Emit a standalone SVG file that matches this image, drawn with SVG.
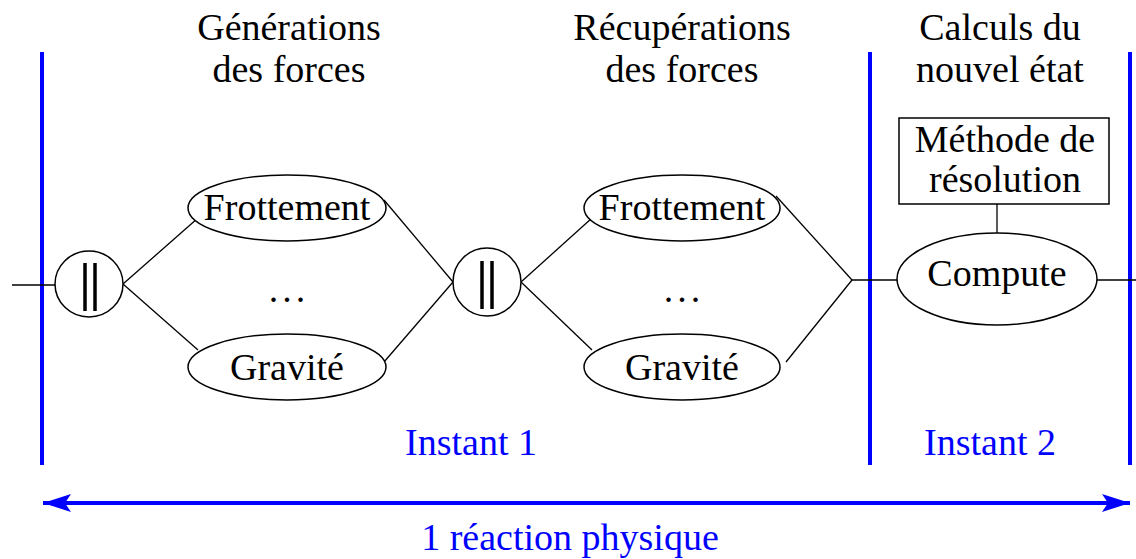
<svg xmlns="http://www.w3.org/2000/svg" width="1136" height="559" viewBox="0 0 1136 559">
<defs>
<style>
text{font-family:"Liberation Serif","Times New Roman",serif;font-size:38px;text-anchor:middle;fill:#000}
.blue{fill:#0000ff}
.dots{letter-spacing:4px}
.node{fill:#fff;stroke:#000;stroke-width:1.5}
.edge{stroke:#000;stroke-width:1.3;fill:none}
.bar{stroke:#000;stroke-width:3.5}
.sep{stroke:#0000ff;stroke-width:4}
</style>
<marker id="ah" viewBox="0 0 28 18" refX="28" refY="9" markerWidth="28" markerHeight="18" markerUnits="userSpaceOnUse" orient="auto-start-reverse">
<path d="M0,0 L28,9 L0,18 L6,9 Z" fill="#0000ff"/>
</marker>
</defs>
<rect width="1136" height="559" fill="#fff"/>

<g id="separators">
<line class="sep" x1="42" y1="52" x2="42" y2="465"/>
<line class="sep" x1="870" y1="52" x2="870" y2="465"/>
<line class="sep" x1="1130" y1="52" x2="1130" y2="465"/>
</g>

<g id="headers">
<text x="289" y="40">Générations</text>
<text x="289" y="82">des forces</text>
<text x="682" y="40">Récupérations</text>
<text x="682" y="82">des forces</text>
<text x="1000" y="40">Calculs du</text>
<text x="1000" y="82">nouvel état</text>
</g>

<g id="connectors">
<line class="edge" x1="12" y1="285" x2="55" y2="285"/>
<line class="edge" x1="123" y1="284" x2="198" y2="218"/>
<line class="edge" x1="123" y1="284" x2="198" y2="350"/>
<line class="edge" x1="384" y1="200" x2="453" y2="282"/>
<line class="edge" x1="384" y1="362" x2="453" y2="282"/>
<line class="edge" x1="521" y1="282" x2="592" y2="218"/>
<line class="edge" x1="521" y1="282" x2="592" y2="350"/>
<line class="edge" x1="776" y1="196" x2="852" y2="280"/>
<line class="edge" x1="786" y1="362" x2="852" y2="280"/>
<line class="edge" x1="852" y1="280" x2="898" y2="280"/>
<line class="edge" x1="997" y1="204" x2="997" y2="233"/>
<line class="edge" x1="1097" y1="280" x2="1136" y2="280"/>
</g>

<g id="par1">
<ellipse class="node" cx="89" cy="284" rx="34" ry="33"/>
<line class="bar" x1="85" y1="263" x2="85" y2="311"/>
<line class="bar" x1="95" y1="263" x2="95" y2="311"/>
</g>
<g id="frottement1">
<ellipse class="node" cx="287" cy="208" rx="99" ry="33"/>
<text x="287" y="220">Frottement</text>
</g>
<g id="dots1"><text class="dots" x="289" y="302">...</text></g>
<g id="gravite1">
<ellipse class="node" cx="287" cy="367" rx="99" ry="33"/>
<text x="287" y="380">Gravité</text>
</g>
<g id="par2">
<ellipse class="node" cx="487" cy="282" rx="34" ry="34"/>
<line class="bar" x1="482" y1="261" x2="482" y2="309"/>
<line class="bar" x1="492" y1="261" x2="492" y2="309"/>
</g>
<g id="frottement2">
<ellipse class="node" cx="682" cy="208" rx="98" ry="33"/>
<text x="682" y="220">Frottement</text>
</g>
<g id="dots2"><text class="dots" x="684" y="302">...</text></g>
<g id="gravite2">
<ellipse class="node" cx="682" cy="367" rx="98" ry="33"/>
<text x="682" y="380">Gravité</text>
</g>
<g id="methode">
<rect class="node" x="899" y="118" width="210" height="86"/>
<text x="1005" y="152">Méthode de</text>
<text x="1005" y="192">résolution</text>
</g>
<g id="compute">
<ellipse class="node" cx="997" cy="279" rx="100" ry="46"/>
<text x="997" y="286">Compute</text>
</g>

<g id="labels">
<text class="blue" x="471" y="455">Instant 1</text>
<text class="blue" x="990" y="455">Instant 2</text>
</g>

<g id="span">
<line x1="43" y1="503" x2="1130" y2="503" stroke="#0000ff" stroke-width="4" marker-start="url(#ah)" marker-end="url(#ah)"/>
<text class="blue" x="570" y="550">1 réaction physique</text>
</g>
</svg>
